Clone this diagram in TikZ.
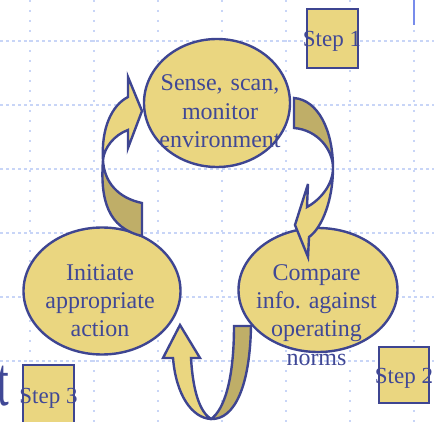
\documentclass[tikz,border=0pt]{standalone}
\usepackage{fontspec}
\setmainfont{Liberation Serif}
\frenchspacing
\usetikzlibrary{shapes.geometric}
\definecolor{ink}{RGB}{62,69,145}
\definecolor{txt}{RGB}{64,72,150}
\definecolor{khaki}{RGB}{234,214,128}
\definecolor{khakidark}{RGB}{191,174,104}
\definecolor{gridblue}{RGB}{200,213,247}
\definecolor{ruleblue}{RGB}{120,140,235}
\begin{document}
\begin{tikzpicture}[x=1pt,y=-1pt,
  stage/.style={ellipse, draw=ink, fill=khaki, line width=2.4pt, inner sep=0pt},
  stagetext/.style={text=txt, font=\fontsize{24}{28.5}\selectfont, align=center,
    text width=170pt, anchor=base, inner sep=0pt},
  stepbox/.style={rectangle, draw=ink, fill=khaki, line width=2.4pt, inner sep=0pt},
  steptext/.style={text=txt, font=\fontsize{23}{27}\selectfont, anchor=base, inner sep=0pt},
  face/.style={fill=khaki},
  back/.style={fill=khakidark},
  rim/.style={draw=ink, line width=2.4pt, line join=miter, miter limit=6},
  hgrid/.style={draw=gridblue, line width=1.3pt, dash pattern=on 3pt off 3pt},
  vgrid/.style={draw=gridblue, line width=1.3pt, dash pattern=on 2pt off 8pt},
]
\useasboundingbox (0,0) rectangle (434,422);
\clip (0,0) rectangle (434,422);

% dotted guide grid
\foreach \y in {41,105,169,233,297,361} \draw[hgrid] (0,\y) -- (434,\y);
\foreach \x in {30,94,158,222,286,350,414} \draw[vgrid] (\x,0) -- (\x,422);
\draw[ruleblue, line width=1.5pt] (414,0) -- (414,25);

% the three stages
\node[stage, minimum width=146pt, minimum height=128pt] (sense) at (217,103) {};
\node[stage, minimum width=157pt, minimum height=127pt] (act) at (102,291) {};
\node[stage, minimum width=159pt, minimum height=124pt] (cmp) at (318,290) {};

% ribbon arrow: act -> sense (left side)
\fill[face] (103,160) .. controls (101,128) and (112,105) .. (128,97) -- (128,77)
  -- (142,111) -- (128,148) -- (128,130) .. controls (114,135) and (104,148) .. (103,160) -- cycle;
\fill[back] (103,160) .. controls (100,200) and (108,228) .. (142,236) -- (142,203)
  .. controls (118,198) and (104,182) .. (103,160) -- cycle;
\draw[rim] (142,236) .. controls (108,228) and (100,200) .. (103,160)
  .. controls (101,128) and (112,105) .. (128,97) -- (128,77) -- (142,111) -- (128,148) -- (128,130)
  .. controls (114,135) and (104,148) .. (103,160)
  .. controls (104,182) and (118,198) .. (142,203) -- cycle;

% ribbon arrow: sense -> cmp (right side)
\fill[back] (294,98) .. controls (318,100) and (333,130) .. (333,168)
  .. controls (333,150) and (318,130) .. (294,128) -- cycle;
\fill[face] (333,168) .. controls (333,200) and (322,228) .. (309,237) -- (308,257) -- (295,225)
  -- (308,184) -- (307,207) .. controls (320,200) and (333,185) .. (333,168) -- cycle;
\draw[rim] (294,128) -- (294,98) .. controls (318,100) and (333,130) .. (333,168)
  .. controls (333,200) and (322,228) .. (309,237) -- (308,257) -- (295,225) -- (308,184) -- (307,207)
  .. controls (320,200) and (333,185) .. (333,168)
  .. controls (333,150) and (318,130) .. (294,128) -- cycle;

% U-turn arrow: cmp -> act (bottom)
\fill[face] (173,358) .. controls (176,395) and (192,418) .. (211,419)
  .. controls (200,412) and (193,392) .. (191,358) -- (200,358) -- (180,325) -- (163,358) -- cycle;
\fill[back] (211,419) .. controls (235,420) and (250,385) .. (251,326) -- (234,326)
  .. controls (234,380) and (224,410) .. (211,419) -- cycle;
\draw[rim] (173,358) .. controls (176,395) and (192,418) .. (211,419)
  .. controls (235,420) and (250,385) .. (251,326) -- (234,326)
  .. controls (234,380) and (224,410) .. (211,419)
  .. controls (200,412) and (193,392) .. (191,358) -- (200,358) -- (180,325) -- (163,358) -- cycle;

% stage labels
\node[stagetext] (sensetext) at (220,91) {Sense, scan,\\monitor\\environment};
\node[stagetext] (acttext) at (100,280) {Initiate\\appropriate\\action};
\node[stagetext] (cmptext) at (316.5,280) {Compare\\info. against\\operating\\norms};

% step tags
\node[stepbox, minimum width=51pt, minimum height=59pt] (step1) at (332.5,38.5) {};
\node[stepbox, minimum width=50pt, minimum height=56pt] (step2) at (404,375) {};
\node[stepbox, minimum width=51pt, minimum height=76pt] (step3) at (48.5,403) {};
\node[steptext] (step1text) at (332,47) {Step 1};
\node[steptext] (step2text) at (404,383) {Step 2};
\node[steptext] (step3text) at (48.5,403) {Step 3};

% trailing letter of a heading cut by the edge
\node[text=txt, font=\fontsize{70}{72}\selectfont, anchor=base east, inner sep=0pt,
  xscale=0.6, transform shape] (tail) at (9,405) {t};
\end{tikzpicture}
\end{document}
